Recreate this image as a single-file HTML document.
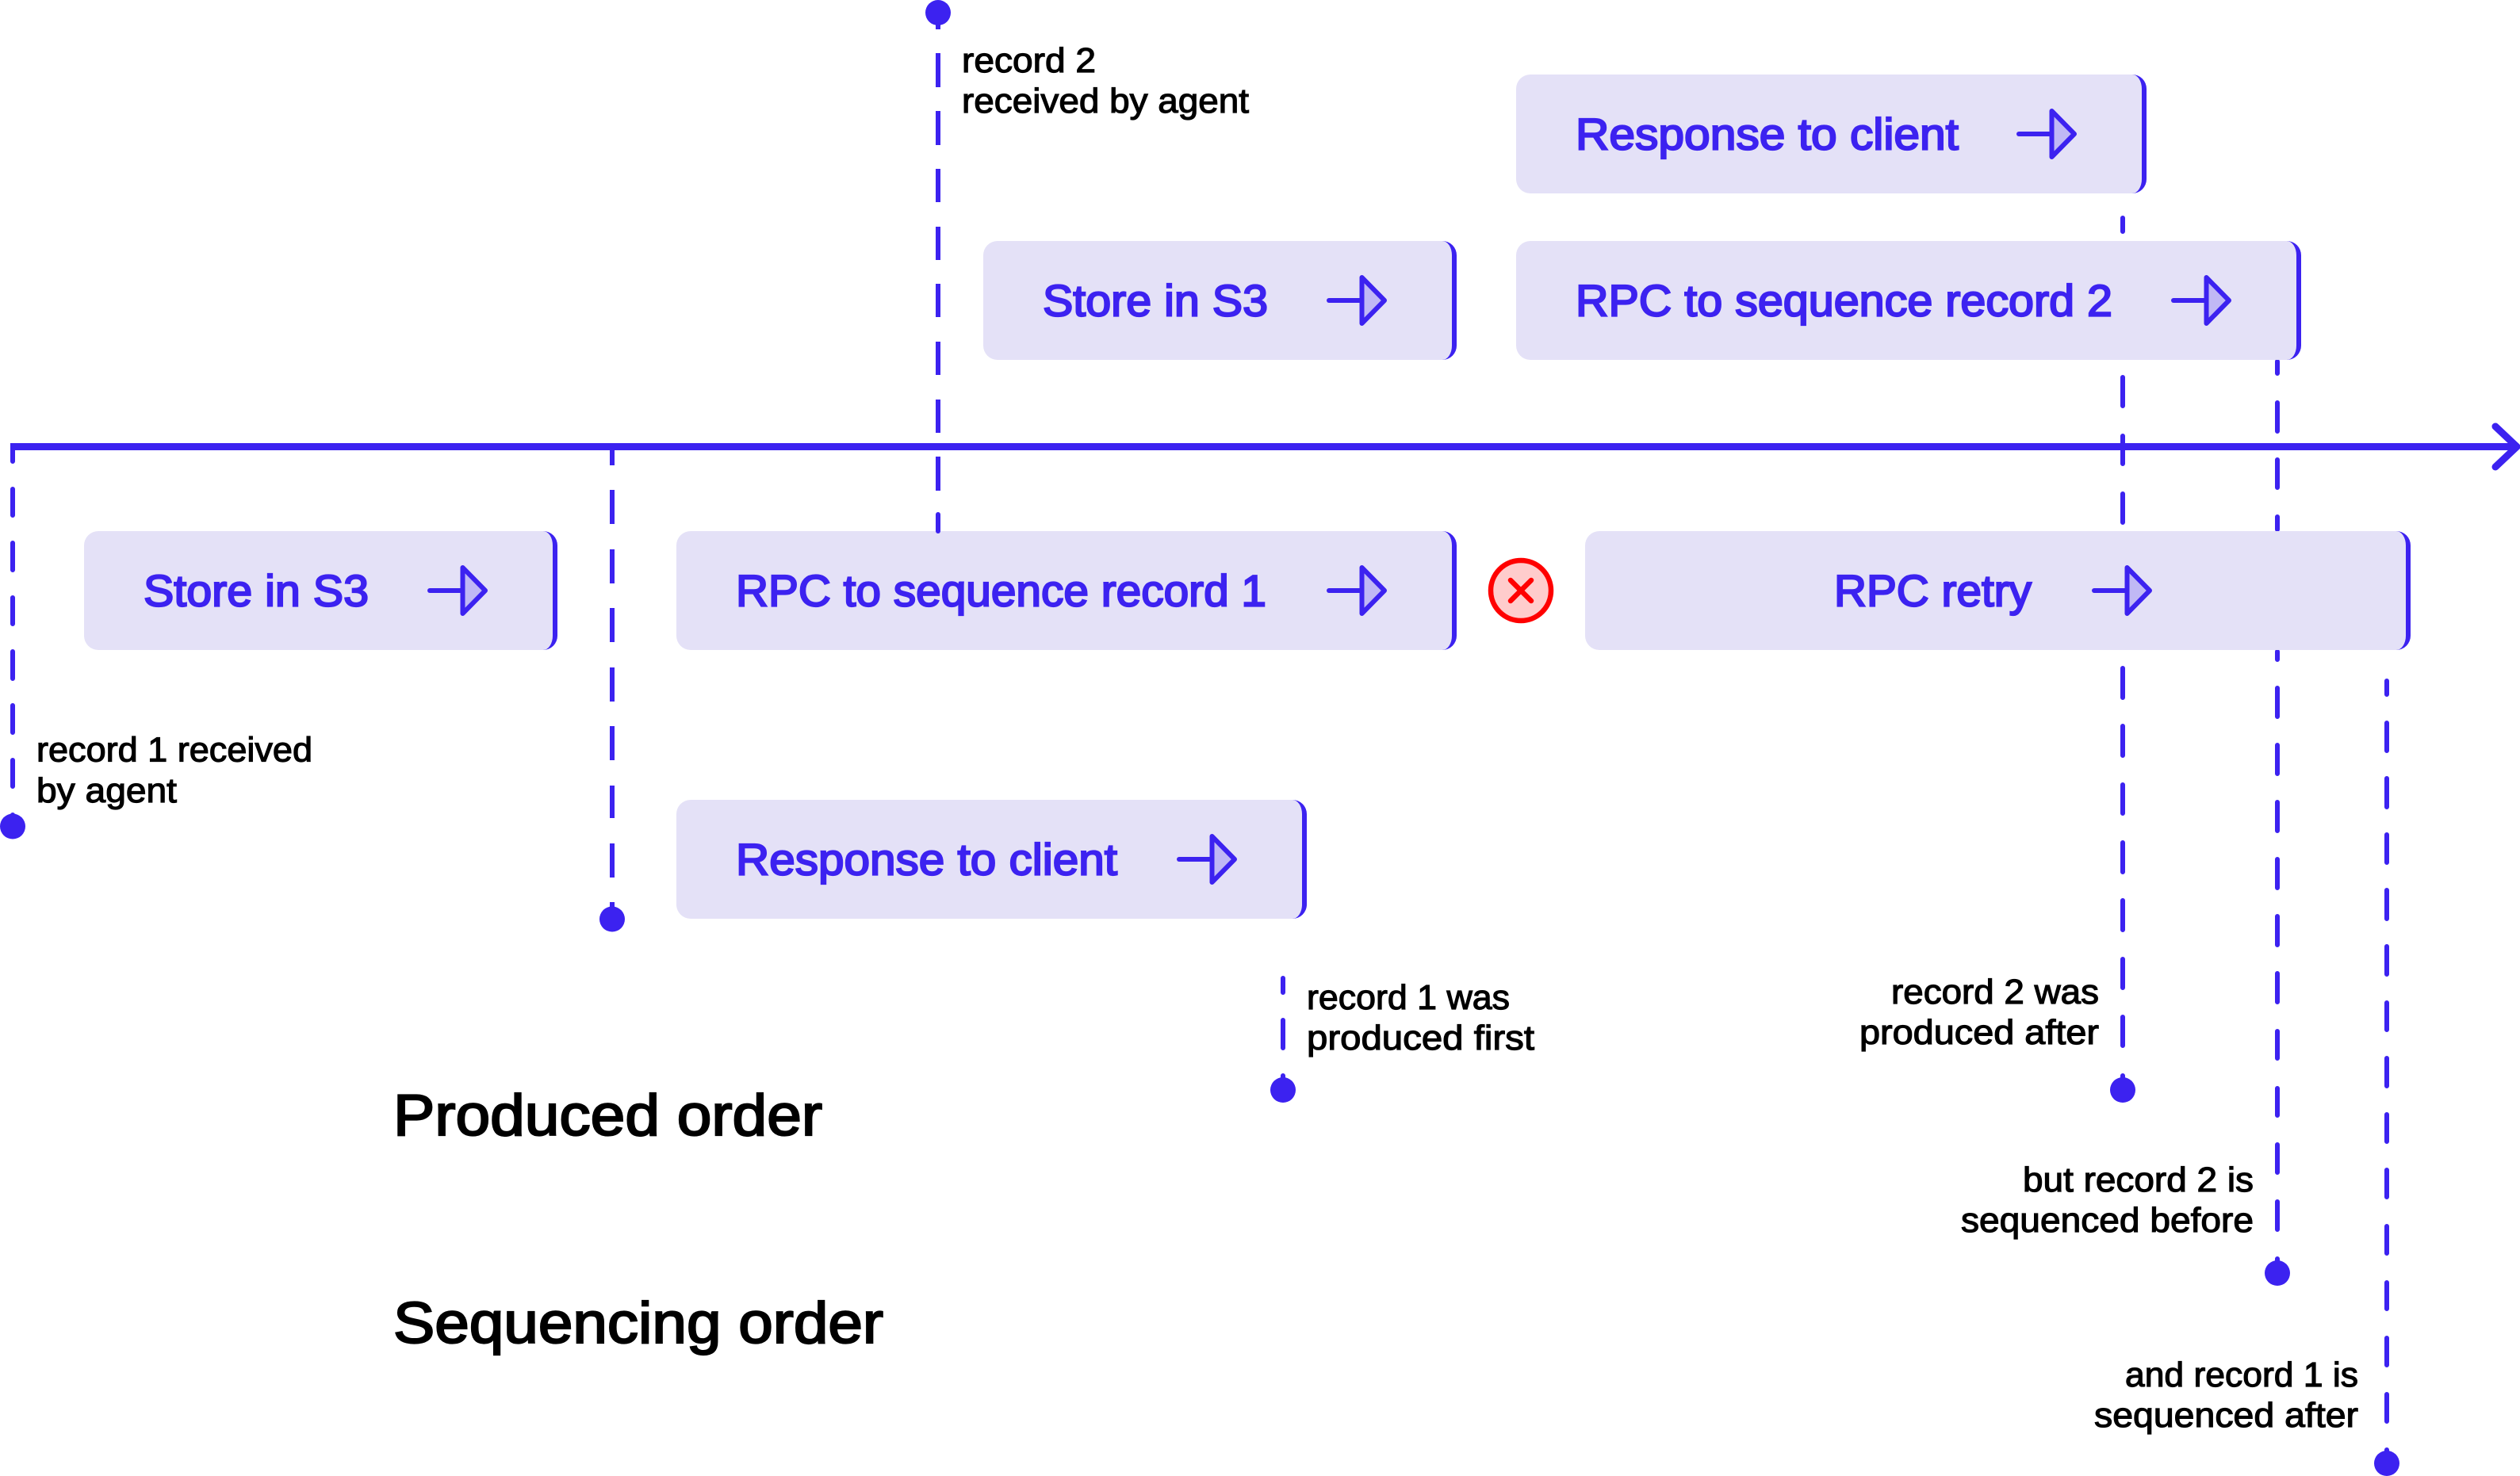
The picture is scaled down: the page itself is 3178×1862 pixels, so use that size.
<!DOCTYPE html>
<html lang="en">
<head>
<meta charset="utf-8">
<title>Record ordering diagram</title>
<style>
html,body{margin:0;padding:0;background:#fff;}
#c{position:relative;width:3178px;height:1862px;overflow:hidden;background:#fff;}
svg{position:absolute;left:0;top:0;}
.b{position:absolute;box-sizing:border-box;height:150px;background:#e4e1f7;border-right:6px solid #3c22f0;border-radius:18px;}
text{font-family:"Liberation Sans",sans-serif;}
.t{font-size:56px;fill:#3c22f0;stroke:#3c22f0;stroke-width:2.2px;}
.l{font-size:44px;fill:#000;stroke:#000;stroke-width:1.2px;}
.h{font-size:73px;fill:#000;stroke:#000;stroke-width:2.2px;}
</style>
</head>
<body>
<div id="c">
<svg width="3178" height="1862" viewBox="0 0 3178 1862">
  <g fill="none" stroke="#3c22f0" stroke-width="6">
    <path stroke-linecap="round" d="M16 562V582M16 617V650M16 685V719M16 754V787M16 822V856M16 890V924M16 959V992M16 1028V1040"/>
    <path d="M772 563V587M772 618V661M772 693V736M772 767V810M772 842V885M772 916V959M772 991V1032M772 1064V1107M772 1138V1159"/>
    <path d="M1183 16V37M1183 67V110M1183 140V183M1183 213V255M1183 286V328M1183 358V400M1183 431V473M1183 504V546M1183 576V619"/>
    <path stroke-linecap="round" d="M1618 1234V1252M1618 1287V1322M1618 1357V1375"/>
    <path stroke-linecap="round" d="M2677 275V292M2677 476V512M2677 550V585M2677 623V659M2677 843V880M2677 916V953M2677 990V1026M2677 1063V1100M2677 1136V1173M2677 1210V1246M2677 1283V1319M2677 1357V1375"/>
    <path stroke-linecap="round" d="M2872 456V471M2872 508V544M2872 580V615M2872 652V668M2872 822V832M2872 868V904M2872 940V976M2872 1012V1048M2872 1084V1120M2872 1156V1192M2872 1228V1264M2872 1301V1335M2872 1373V1407M2872 1444V1479M2872 1516V1551M2872 1588V1606"/>
    <path stroke-linecap="round" d="M3010 859V876M3010 912V947M3010 982V1018M3010 1053V1088M3010 1123V1159M3010 1194V1229M3010 1265V1299M3010 1335V1370M3010 1406V1440M3010 1476V1510M3010 1547V1581M3010 1618V1651M3010 1688V1722M3010 1759V1793M3010 1829V1846"/>
  </g>
  <g fill="#3c22f0">
    <circle cx="1183" cy="16" r="16"/>
    <circle cx="16" cy="1042.5" r="16"/>
    <circle cx="772" cy="1159.5" r="16"/>
    <circle cx="1618" cy="1375" r="16"/>
    <circle cx="2677" cy="1375" r="16"/>
    <circle cx="2872" cy="1606" r="16"/>
    <circle cx="3010" cy="1846" r="16"/>
  </g>
  <g fill="none" stroke="#3c22f0" stroke-linejoin="round">
    <path stroke-width="9" d="M13 563.5H3172"/>
    <path stroke-width="9" stroke-linecap="round" d="M3147 538L3174 563.5L3147 589"/>
  </g>
</svg>

<div class="b" style="left:106px;top:670px;width:597px"></div>
<div class="b" style="left:853px;top:670px;width:984px"></div>
<div class="b" style="left:1999px;top:670px;width:1041px"></div>
<div class="b" style="left:1240px;top:304px;width:597px"></div>
<div class="b" style="left:1912px;top:304px;width:990px"></div>
<div class="b" style="left:1912px;top:94px;width:795px"></div>
<div class="b" style="left:853px;top:1009px;width:795px"></div>

<svg width="3178" height="1862" viewBox="0 0 3178 1862">
  <path fill="none" stroke="#3c22f0" stroke-width="6" stroke-linecap="round" d="M1183 649V670"/>

  <defs>
    <g id="a">
      <path fill="#c0b8f5" stroke="#3c22f0" stroke-width="6" stroke-linejoin="round" d="M41.5 -29V29L70 0Z"/>
      <path fill="none" stroke="#3c22f0" stroke-width="6" stroke-linecap="round" d="M0 0H41.5"/>
    </g>
  </defs>
  <use href="#a" x="542" y="745"/>
  <use href="#a" x="1676" y="745"/>
  <use href="#a" x="2641" y="745"/>
  <use href="#a" x="1676" y="379"/>
  <use href="#a" x="2741" y="379"/>
  <use href="#a" x="2546" y="169"/>
  <use href="#a" x="1487" y="1084"/>

  <circle cx="1918" cy="745" r="38" fill="#ffcccc" stroke="#ff0000" stroke-width="6.5"/>
  <path fill="none" stroke="#ff0000" stroke-width="6.5" stroke-linecap="round" d="M1905 732L1931 758M1931 732L1905 758"/>

  <text class="t" x="181" y="764.5" textLength="284" lengthAdjust="spacingAndGlyphs">Store in S3</text>
  <text class="t" x="928" y="764.5" textLength="669" lengthAdjust="spacingAndGlyphs">RPC to sequence record 1</text>
  <text class="t" x="2313" y="764.5" textLength="249" lengthAdjust="spacingAndGlyphs">RPC retry</text>
  <text class="t" x="1315" y="398.5" textLength="284" lengthAdjust="spacingAndGlyphs">Store in S3</text>
  <text class="t" x="1987" y="398.5" textLength="677" lengthAdjust="spacingAndGlyphs">RPC to sequence record 2</text>
  <text class="t" x="1987" y="188.5" textLength="483" lengthAdjust="spacingAndGlyphs">Response to client</text>
  <text class="t" x="928" y="1103.5" textLength="481" lengthAdjust="spacingAndGlyphs">Response to client</text>

  <text class="l" x="46" y="960.5" textLength="348" lengthAdjust="spacingAndGlyphs">record 1 received</text>
  <text class="l" x="46" y="1012" textLength="177" lengthAdjust="spacingAndGlyphs">by agent</text>
  <text class="l" x="1213" y="91" textLength="169" lengthAdjust="spacingAndGlyphs">record 2</text>
  <text class="l" x="1213" y="142" textLength="362" lengthAdjust="spacingAndGlyphs">received by agent</text>
  <text class="l" x="1648" y="1273" textLength="256" lengthAdjust="spacingAndGlyphs">record 1 was</text>
  <text class="l" x="1648" y="1324" textLength="287" lengthAdjust="spacingAndGlyphs">produced first</text>
  <text class="l" x="2385" y="1266" textLength="262" lengthAdjust="spacingAndGlyphs">record 2 was</text>
  <text class="l" x="2345" y="1317" textLength="302" lengthAdjust="spacingAndGlyphs">produced after</text>
  <text class="l" x="2551" y="1503" textLength="291" lengthAdjust="spacingAndGlyphs">but record 2 is</text>
  <text class="l" x="2473" y="1554" textLength="369" lengthAdjust="spacingAndGlyphs">sequenced before</text>
  <text class="l" x="2680" y="1749" textLength="294" lengthAdjust="spacingAndGlyphs">and record 1 is</text>
  <text class="l" x="2641" y="1800" textLength="333" lengthAdjust="spacingAndGlyphs">sequenced after</text>

  <text class="h" x="496" y="1432" textLength="541" lengthAdjust="spacingAndGlyphs">Produced order</text>
  <text class="h" x="496" y="1694" textLength="618" lengthAdjust="spacingAndGlyphs">Sequencing order</text>
</svg>
</div>
</body>
</html>
